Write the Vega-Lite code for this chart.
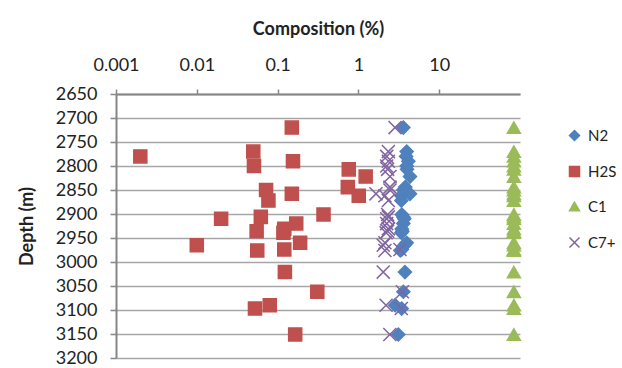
{
  "$schema": "https://vega.github.io/schema/vega-lite/v6.json",
  "width": 404,
  "height": 264,
  "autosize": {"type": "none"},
  "padding": {"left": 116, "top": 94, "right": 102, "bottom": 10},
  "background": "white",
  "config": {
    "font": "Lato",
    "view": {"stroke": null},
    "legend": {
      "orient": "none",
      "direction": "vertical",
      "legendX": 451,
      "legendY": 34,
      "labelFontSize": 15,
      "labelColor": "#222222",
      "symbolSize": 100,
      "symbolStrokeWidth": 1.5,
      "rowPadding": 19,
      "labelOffset": 6,
      "padding": 0
    }
  },
  "data": {
    "values": [
      {"series": "N2", "depth": 2720, "value": 3.6},
      {"series": "N2", "depth": 2770, "value": 3.96},
      {"series": "N2", "depth": 2780, "value": 3.9},
      {"series": "N2", "depth": 2790, "value": 4.15},
      {"series": "N2", "depth": 2800, "value": 3.96},
      {"series": "N2", "depth": 2807, "value": 4.0},
      {"series": "N2", "depth": 2822, "value": 4.35},
      {"series": "N2", "depth": 2844, "value": 3.8},
      {"series": "N2", "depth": 2850, "value": 3.6},
      {"series": "N2", "depth": 2858, "value": 4.35},
      {"series": "N2", "depth": 2862, "value": 3.4},
      {"series": "N2", "depth": 2872, "value": 3.4},
      {"series": "N2", "depth": 2901, "value": 3.45},
      {"series": "N2", "depth": 2906, "value": 3.6},
      {"series": "N2", "depth": 2910, "value": 3.7},
      {"series": "N2", "depth": 2920, "value": 3.6},
      {"series": "N2", "depth": 2931, "value": 3.45},
      {"series": "N2", "depth": 2936, "value": 3.5},
      {"series": "N2", "depth": 2939, "value": 3.4},
      {"series": "N2", "depth": 2960, "value": 3.96},
      {"series": "N2", "depth": 2965, "value": 3.7},
      {"series": "N2", "depth": 2974, "value": 3.45},
      {"series": "N2", "depth": 2976, "value": 3.3},
      {"series": "N2", "depth": 3021, "value": 3.77},
      {"series": "N2", "depth": 3062, "value": 3.6},
      {"series": "N2", "depth": 3090, "value": 2.85},
      {"series": "N2", "depth": 3097, "value": 3.43},
      {"series": "N2", "depth": 3151, "value": 3.12},
      {"series": "H2S", "depth": 2720, "value": 0.15},
      {"series": "H2S", "depth": 2770, "value": 0.05},
      {"series": "H2S", "depth": 2780, "value": 0.002},
      {"series": "H2S", "depth": 2790, "value": 0.155},
      {"series": "H2S", "depth": 2800, "value": 0.051},
      {"series": "H2S", "depth": 2807, "value": 0.76},
      {"series": "H2S", "depth": 2822, "value": 1.23},
      {"series": "H2S", "depth": 2844, "value": 0.74},
      {"series": "H2S", "depth": 2850, "value": 0.072},
      {"series": "H2S", "depth": 2858, "value": 0.15},
      {"series": "H2S", "depth": 2862, "value": 1.01},
      {"series": "H2S", "depth": 2872, "value": 0.077},
      {"series": "H2S", "depth": 2901, "value": 0.37},
      {"series": "H2S", "depth": 2906, "value": 0.062},
      {"series": "H2S", "depth": 2910, "value": 0.02},
      {"series": "H2S", "depth": 2920, "value": 0.17},
      {"series": "H2S", "depth": 2931, "value": 0.121},
      {"series": "H2S", "depth": 2936, "value": 0.055},
      {"series": "H2S", "depth": 2939, "value": 0.118},
      {"series": "H2S", "depth": 2960, "value": 0.19},
      {"series": "H2S", "depth": 2965, "value": 0.01},
      {"series": "H2S", "depth": 2974, "value": 0.121},
      {"series": "H2S", "depth": 2976, "value": 0.056},
      {"series": "H2S", "depth": 3021, "value": 0.123},
      {"series": "H2S", "depth": 3062, "value": 0.31},
      {"series": "H2S", "depth": 3090, "value": 0.08},
      {"series": "H2S", "depth": 3097, "value": 0.0525},
      {"series": "H2S", "depth": 3151, "value": 0.165},
      {"series": "C1", "depth": 2720, "value": 84},
      {"series": "C1", "depth": 2770, "value": 84},
      {"series": "C1", "depth": 2780, "value": 84},
      {"series": "C1", "depth": 2790, "value": 84},
      {"series": "C1", "depth": 2800, "value": 84},
      {"series": "C1", "depth": 2807, "value": 84},
      {"series": "C1", "depth": 2822, "value": 84},
      {"series": "C1", "depth": 2844, "value": 84},
      {"series": "C1", "depth": 2850, "value": 84},
      {"series": "C1", "depth": 2858, "value": 84},
      {"series": "C1", "depth": 2862, "value": 84},
      {"series": "C1", "depth": 2872, "value": 84},
      {"series": "C1", "depth": 2901, "value": 84},
      {"series": "C1", "depth": 2906, "value": 84},
      {"series": "C1", "depth": 2910, "value": 84},
      {"series": "C1", "depth": 2920, "value": 84},
      {"series": "C1", "depth": 2931, "value": 84},
      {"series": "C1", "depth": 2936, "value": 84},
      {"series": "C1", "depth": 2939, "value": 84},
      {"series": "C1", "depth": 2960, "value": 84},
      {"series": "C1", "depth": 2965, "value": 84},
      {"series": "C1", "depth": 2974, "value": 84},
      {"series": "C1", "depth": 2976, "value": 84},
      {"series": "C1", "depth": 3021, "value": 84},
      {"series": "C1", "depth": 3062, "value": 84},
      {"series": "C1", "depth": 3090, "value": 84},
      {"series": "C1", "depth": 3097, "value": 84},
      {"series": "C1", "depth": 3151, "value": 84},
      {"series": "C7+", "depth": 2720, "value": 2.84},
      {"series": "C7+", "depth": 2770, "value": 2.35},
      {"series": "C7+", "depth": 2780, "value": 2.24},
      {"series": "C7+", "depth": 2790, "value": 2.35},
      {"series": "C7+", "depth": 2800, "value": 2.24},
      {"series": "C7+", "depth": 2807, "value": 2.3},
      {"series": "C7+", "depth": 2822, "value": 2.46},
      {"series": "C7+", "depth": 2844, "value": 2.46},
      {"series": "C7+", "depth": 2850, "value": 2.46},
      {"series": "C7+", "depth": 2858, "value": 1.65},
      {"series": "C7+", "depth": 2862, "value": 2.13},
      {"series": "C7+", "depth": 2872, "value": 2.35},
      {"series": "C7+", "depth": 2901, "value": 2.3},
      {"series": "C7+", "depth": 2906, "value": 2.35},
      {"series": "C7+", "depth": 2910, "value": 2.24},
      {"series": "C7+", "depth": 2920, "value": 2.24},
      {"series": "C7+", "depth": 2931, "value": 2.35},
      {"series": "C7+", "depth": 2936, "value": 2.3},
      {"series": "C7+", "depth": 2939, "value": 2.2},
      {"series": "C7+", "depth": 2960, "value": 2.13},
      {"series": "C7+", "depth": 2965, "value": 2.03},
      {"series": "C7+", "depth": 2974, "value": 3.27},
      {"series": "C7+", "depth": 2976, "value": 2.13},
      {"series": "C7+", "depth": 3021, "value": 2.03},
      {"series": "C7+", "depth": 3062, "value": 3.5},
      {"series": "C7+", "depth": 3090, "value": 2.2},
      {"series": "C7+", "depth": 3097, "value": 3.4},
      {"series": "C7+", "depth": 3151, "value": 2.45}
    ]
  },
  "mark": {"type": "point", "filled": true, "size": 170, "strokeWidth": 1.5, "opacity": 1},
  "encoding": {
    "x": {
      "field": "value",
      "type": "quantitative",
      "scale": {"type": "log", "domain": [0.001, 100], "nice": false},
      "axis": {
        "orient": "top",
        "values": [0.001, 0.01, 0.1, 1, 10],
        "format": "~g",
        "grid": false,
        "domainColor": "#868686",
        "domainWidth": 2,
        "tickColor": "#868686",
        "tickWidth": 1.5,
        "tickSize": 5,
        "labelFontSize": 18,
        "labelColor": "#222222",
        "labelPadding": 15,
        "labelFlush": false,
        "labelOverlap": false,
        "title": "Composition (%)",
        "titleFontSize": 18,
        "titleFontWeight": "bold",
        "titleColor": "#222222",
        "titlePadding": 18
      }
    },
    "y": {
      "field": "depth",
      "type": "quantitative",
      "scale": {"domain": [2650, 3200], "reverse": true, "nice": false, "zero": false},
      "axis": {
        "values": [2650, 2700, 2750, 2800, 2850, 2900, 2950, 3000, 3050, 3100, 3150, 3200],
        "format": "d",
        "grid": true,
        "gridColor": "#a6a6a6",
        "gridWidth": 1.5,
        "domainColor": "#868686",
        "domainWidth": 2,
        "tickColor": "#868686",
        "tickWidth": 1.5,
        "tickSize": 6,
        "labelFontSize": 18,
        "labelColor": "#222222",
        "labelPadding": 13,
        "title": "Depth (m)",
        "titleFontSize": 18,
        "titleFontWeight": "bold",
        "titleColor": "#222222",
        "titlePadding": 19
      }
    },
    "fill": {
      "field": "series",
      "type": "nominal",
      "scale": {"domain": ["N2", "H2S", "C1", "C7+"], "range": ["#4F81BD", "#C0504D", "#9BBB59", "#8064A2"]},
      "legend": {"title": null}
    },
    "stroke": {
      "field": "series",
      "type": "nominal",
      "scale": {"domain": ["N2", "H2S", "C1", "C7+"], "range": ["#4F81BD", "#C0504D", "#9BBB59", "#8064A2"]},
      "legend": {"title": null}
    },
    "shape": {
      "field": "series",
      "type": "nominal",
      "scale": {"domain": ["N2", "H2S", "C1", "C7+"], "range": ["diamond", "square", "triangle-up", "M-1,-1L1,1M-1,1L1,-1"]},
      "legend": {"title": null}
    }
  }
}
